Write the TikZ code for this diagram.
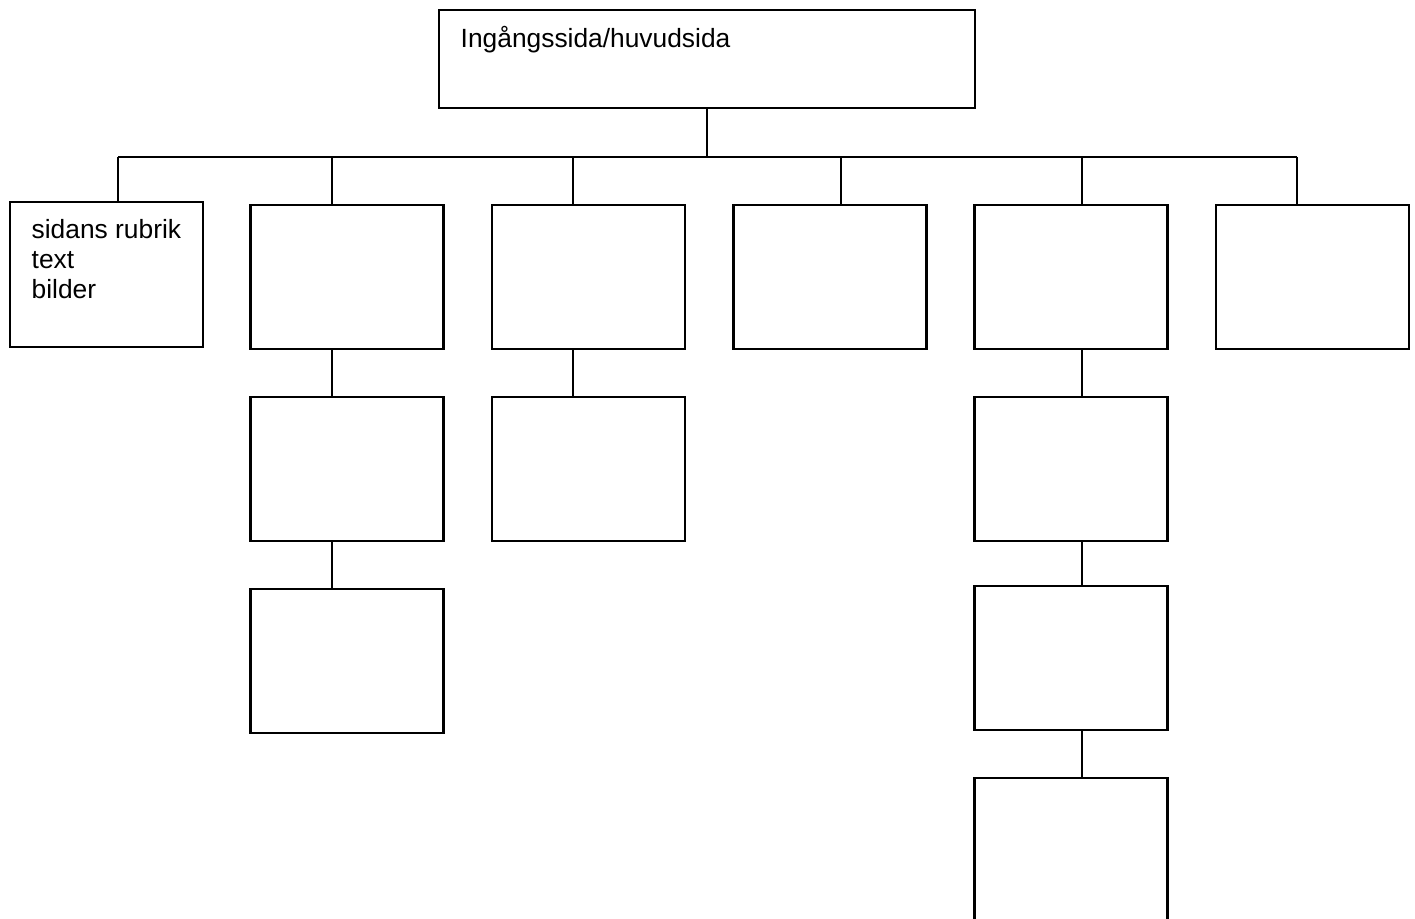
\documentclass[tikz,border=0pt]{standalone}
\usepackage{fontspec}
\setmainfont{Liberation Sans}
\usetikzlibrary{positioning}
\tikzset{
  page/.style={draw,rectangle,line width=0.6pt,minimum width=1.93cm,minimum height=1.44cm,inner sep=0pt},
  caption/.style={inner sep=0pt,align=left,font=\fontsize{7.5}{8.55}\selectfont},
  link/.style={draw,line width=0.6pt}
}
\begin{document}
\begin{tikzpicture}[auto,node distance=4.6mm]
  \useasboundingbox (0,0) rectangle (14.15,-9.19);
  \clip (0,0) rectangle (14.15,-9.19);
  \node (home) [page,minimum width=5.36cm,minimum height=0.98cm] at (7.07,-0.59) {};
  \node (hometext) [caption,anchor=base west] at (4.60,-0.48) {Ingångssida/huvudsida};
  \node (p1) [page,minimum height=1.45cm] at (1.065,-2.745) {};
  \node (p1text) [caption,anchor=north west] at (0.31,-2.19) {sidans rubrik\\text\\bilder};
  \node (p2) [page] at (3.47,-2.77) {};
  \node (p3) [page] at (5.885,-2.77) {};
  \node (p4) [page] at (8.30,-2.77) {};
  \node (p5) [page] at (10.71,-2.77) {};
  \node (p6) [page] at (13.125,-2.77) {};
  \node (p2a) [page,below=of p2] {};
  \node (p2b) [page,below=of p2a] {};
  \node (p3a) [page,below=of p3] {};
  \node (p5a) [page,below=of p5] {};
  \node (p5b) [page,below=4.3mm of p5a] {};
  \node (p5c) [page,below=of p5b] {};
  \coordinate (bus) at (7.07,-1.57);
  \coordinate (d1) at (1.18,-1.57);
  \coordinate (d2) at (3.32,-1.57);
  \coordinate (d3) at (5.73,-1.57);
  \coordinate (d4) at (8.41,-1.57);
  \coordinate (d5) at (10.82,-1.57);
  \coordinate (d6) at (12.97,-1.57);
  \path[link]
    (home.south) -- (bus)
    (d1) -- (d6)
    (d1) -- (d1 |- p1.north)
    (d2) -- (d2 |- p2.north)
    (d3) -- (d3 |- p3.north)
    (d4) -- (d4 |- p4.north)
    (d5) -- (d5 |- p5.north)
    (d6) -- (d6 |- p6.north)
    (d2 |- p2.south) -- (d2 |- p2a.north)
    (d2 |- p2a.south) -- (d2 |- p2b.north)
    (d3 |- p3.south) -- (d3 |- p3a.north)
    (d5 |- p5.south) -- (d5 |- p5a.north)
    (d5 |- p5a.south) -- (d5 |- p5b.north)
    (d5 |- p5b.south) -- (d5 |- p5c.north);
\end{tikzpicture}
\end{document}
